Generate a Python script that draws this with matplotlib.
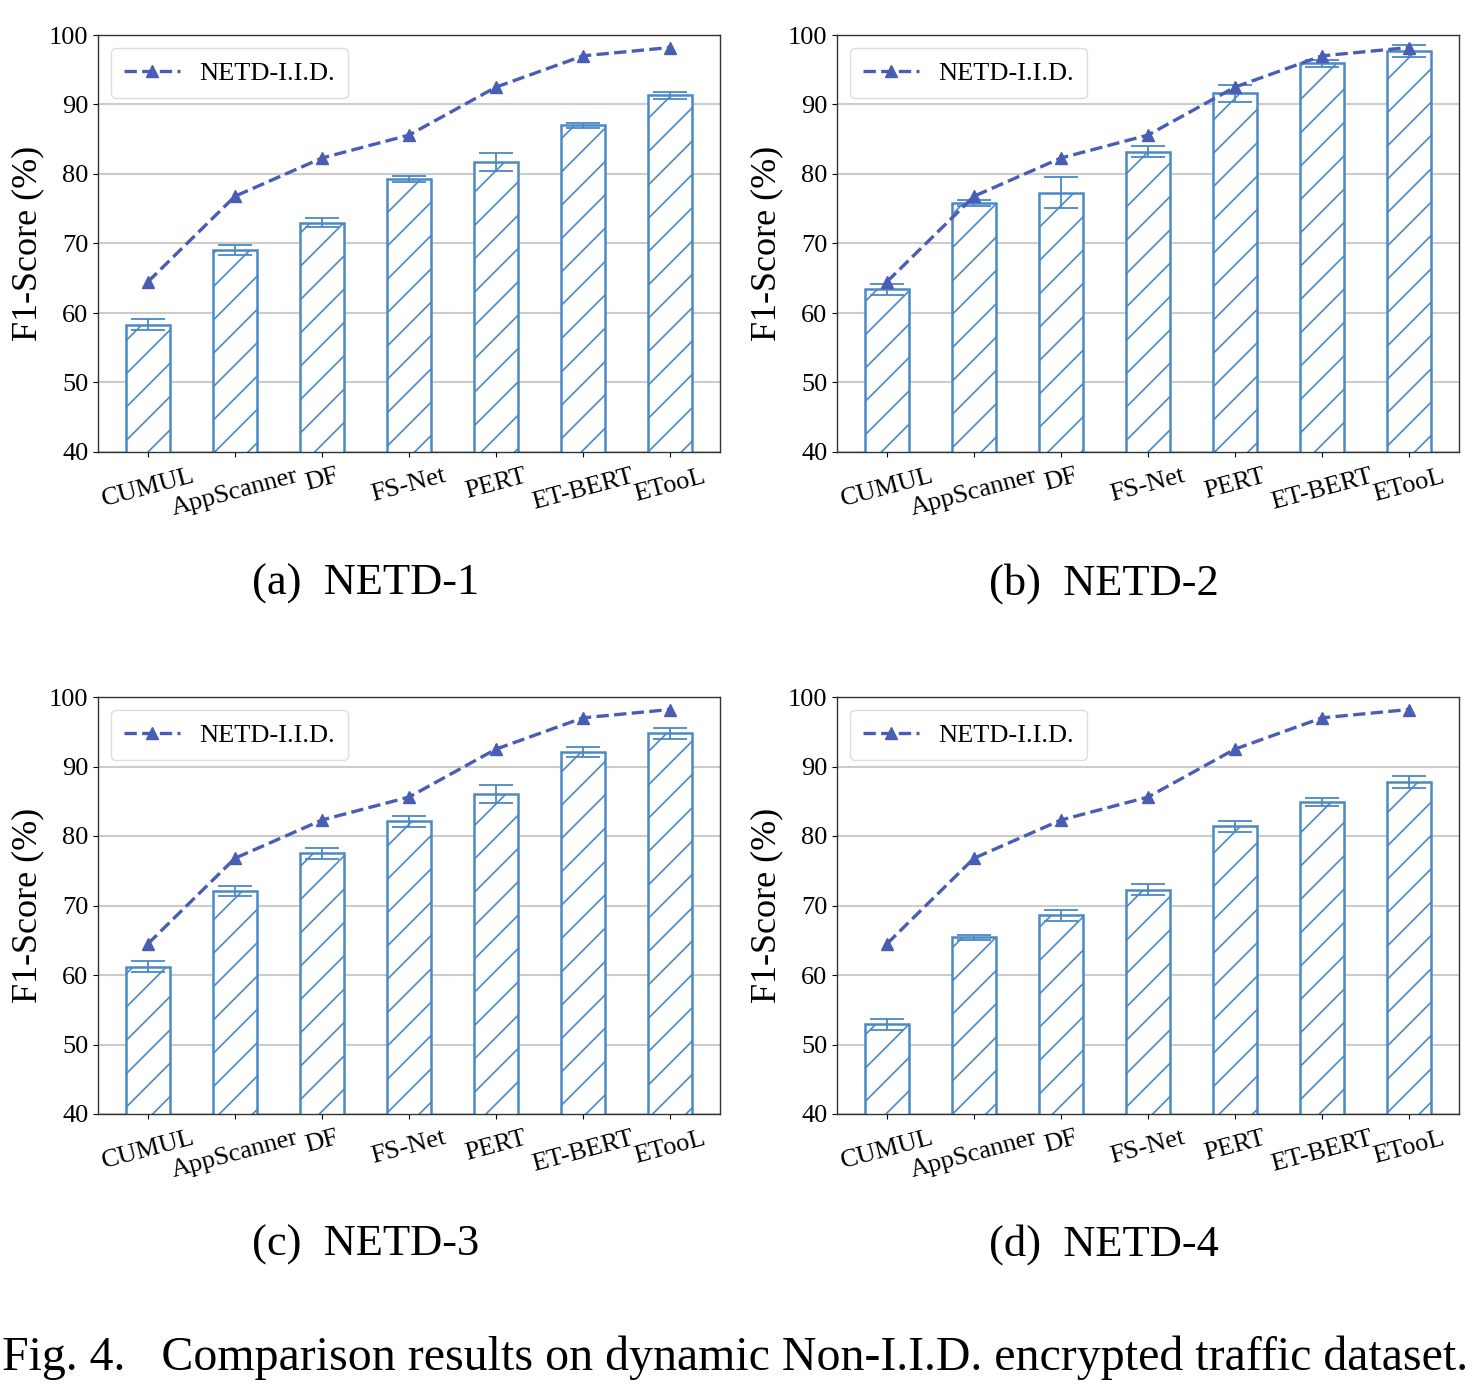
import matplotlib
matplotlib.use('Agg')
import matplotlib.pyplot as plt

plt.rcParams['font.family'] = ['Liberation Serif', 'DejaVu Serif']
plt.rcParams['hatch.linewidth'] = 1.2

# Data
methods = ['CUMUL', 'AppScanner', 'DF', 'FS-Net', 'PERT', 'ET-BERT', 'ETooL']
iid = [64.5, 76.8, 82.3, 85.6, 92.5, 97.0, 98.2]

netd1 = [58.3, 69.1, 73.0, 79.3, 81.7, 87.0, 91.3]
netd1_err = [0.8, 0.7, 0.6, 0.4, 1.3, 0.4, 0.5]
netd2 = [63.4, 75.8, 77.3, 83.2, 91.6, 95.9, 97.7]
netd2_err = [0.8, 0.4, 2.2, 0.8, 1.2, 0.5, 0.8]
netd3 = [61.2, 72.1, 77.5, 82.1, 86.0, 92.1, 94.8]
netd3_err = [0.8, 0.7, 0.8, 0.8, 1.3, 0.7, 0.8]
netd4 = [52.9, 65.4, 68.6, 72.3, 81.4, 84.9, 87.8]
netd4_err = [0.8, 0.4, 0.8, 0.8, 0.8, 0.6, 0.9]

panels = [
    ('(a)  NETD-1', netd1, netd1_err),
    ('(b)  NETD-2', netd2, netd2_err),
    ('(c)  NETD-3', netd3, netd3_err),
    ('(d)  NETD-4', netd4, netd4_err),
]

bar_color = '#4a89c4'
line_color = '#4a5db4'

W, H = 1477, 1388
fig = plt.figure(figsize=(W / 100, H / 100), dpi=100)

lefts = [98, 837]
tops = [35, 697]
aw, ah = 622, 417

def draw(ax, vals, errs):
    x = list(range(len(methods)))
    ax.bar(x, vals, width=0.5, color='white', edgecolor=bar_color,
           hatch='/', linewidth=1.8, zorder=2)
    ax.errorbar(x, vals, yerr=errs, fmt='none', ecolor=bar_color,
                elinewidth=1.3, capsize=12, capthick=1.3, zorder=3)
    ax.plot(x, iid, linestyle='--', color=line_color, marker='^',
            markersize=8, linewidth=2.4, label='NETD-I.I.D.', zorder=4)
    ax.set_ylim(40, 100)
    ax.set_yticks(range(40, 101, 10))
    ax.set_xticks(x)
    ax.set_xticklabels(methods, rotation=15, ha='center', fontsize=19)
    ax.tick_params(axis='x', pad=6)
    ax.tick_params(axis='y', labelsize=19)
    ax.yaxis.grid(True, color='#cccccc', linewidth=1.5, zorder=0)
    ax.set_axisbelow(True)
    ax.set_ylabel('F1-Score (%)', fontsize=26, va='center')
    for s in ax.spines.values():
        s.set_color('#333333')
        s.set_linewidth(1.0)
    ax.legend(loc='upper left', fontsize=19, handlelength=2.1,
              handletextpad=0.75, borderpad=0.5, fancybox=True,
              framealpha=1, edgecolor='#dddddd')

for i, (title, vals, errs) in enumerate(panels):
    r, c = divmod(i, 2)
    ax = fig.add_axes([lefts[c] / W, 1 - (tops[r] + ah) / H, aw / W, ah / H])
    draw(ax, vals, errs)
    ax.yaxis.set_label_coords(-0.113, 0.5)
    cx = 366 + c * 738
    cy = 584 + r * 661
    fig.text(cx / W, 1 - cy / H, title, ha='center', va='center', fontsize=32)

fig.text(0.4975, 1 - 1358 / H,
         'Fig. 4.   Comparison results on dynamic Non-I.I.D. encrypted traffic dataset.',
         ha='center', va='center', fontsize=34.5)

fig.savefig('out.png', dpi=100)
